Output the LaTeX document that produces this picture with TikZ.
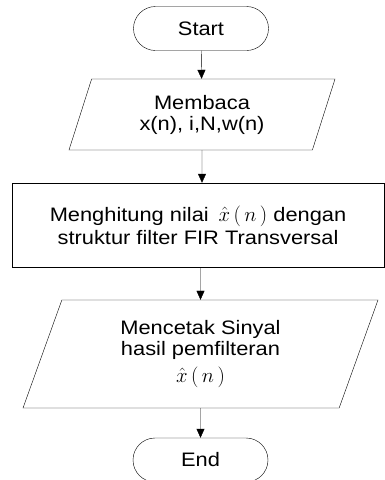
\documentclass[tikz,border=0pt]{standalone}
\usepackage{fontspec}
\setmainfont[FakeStretch=1.12]{Liberation Sans}
\usepackage{tikz}
\usetikzlibrary{arrows.meta,positioning,shapes,calc}
\newcommand{\xhat}{{\fontsize{21}{21}\selectfont$\hat{x}\,(\,n\,)$}}

\begin{document}
\begin{tikzpicture}[x=1pt, y=-1pt, thin, >={Triangle[length=9pt,width=8pt]},
  terminal/.style={rectangle,draw,rounded corners=22pt,minimum width=135pt,minimum height=44pt,inner sep=0pt},
  io/.style={trapezium,draw,trapezium left angle=60,trapezium right angle=120,trapezium stretches body,align=center,inner sep=0pt},
  process/.style={rectangle,draw,align=center,inner sep=0pt},
  every node/.style={font=\fontsize{19.5}{21}\selectfont}]
\useasboundingbox (0,0) rectangle (385,480);
\begin{scope}
\node[terminal] (start) at (201,28.5) {Start};
\node[io,minimum width=266pt,minimum height=71pt] (read) at (202,114.5) {Membaca\\x(n), i,N,w(n)};
\node[process,minimum width=372pt,minimum height=84pt] (calc) at (198,225) {Menghitung nilai\enspace\xhat{} dengan\\[2pt]struktur filter FIR Transversal};
\node[io,minimum width=355pt,minimum height=108pt] (print) at (200.5,354) {Mencetak Sinyal\\hasil pemfilteran\\[6pt]\xhat};
\node[terminal] (end) at (200.5,460) {End};
\end{scope}
\begin{scope}
\draw[->] (start) -- (read);
\draw[->] (read) -- (read |- calc.north);
\draw[->] (calc.south -| print) -- (print);
\draw[->] (print) -- (end);
\end{scope}
\end{tikzpicture}
\end{document}
